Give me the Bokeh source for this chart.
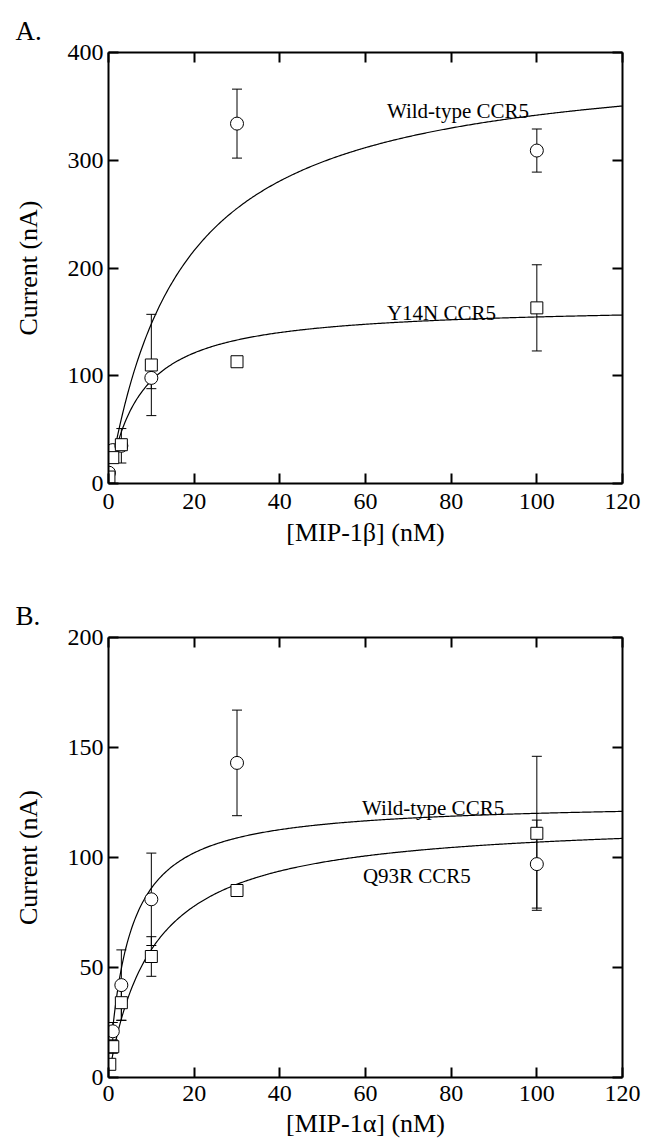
import numpy as np
from bokeh.plotting import figure
from bokeh.models import (Range1d, LinearAxis, FixedTicker, Whisker, ColumnDataSource,
                          TeeHead)
from bokeh.layouts import column
from bokeh.embed import file_html
from bokeh.resources import INLINE
from bokeh.core.properties import value

# ---------------- data: panel A (MIP-1beta) ----------------
conc_A = [0.1, 1, 3, 10, 30, 100]
wt_A = [10, 31, 35, 98, 334, 309]
wt_A_err = [0, 3, 16, 10, 32, 20]
y14n_A = [6, 24, 36, 110, 113, 163]
y14n_A_err = [0, 3, 5, 47, 4, 40]
# hyperbolic fits (Vmax nA, K nM)
fit_wt_A = (400.0, 17.0)
fit_y14n_A = (166.0, 7.4)

# ---------------- data: panel B (MIP-1alpha) ----------------
conc_B_wt = [1, 3, 10, 30, 100]
wt_B = [21, 42, 81, 143, 97]
wt_B_err = [4, 16, 21, 24, 20]
conc_B_q93r = [0.3, 1, 3, 10, 30, 100]
q93r_B = [6, 14, 34, 55, 85, 111]
q93r_B_err = [2, 3, 8, 9, 2, 35]
fit_wt_B = (125.6, 4.6)
fit_q93r_B = (118.0, 10.3)

x_ticks = [0, 20, 40, 60, 80, 100, 120]
y_ticks_A = [0, 100, 200, 300, 400]
y_ticks_B = [0, 50, 100, 150, 200]

FONT = "'Liberation Serif', serif"
TICK_FS = "24px"
LABEL_FS = "26px"
ANN_FS = "21px"


def style_axis(ax, ticks, labels=True, standoff=8):
    ax.ticker = FixedTicker(ticks=ticks)
    ax.major_tick_in = 10
    ax.major_tick_out = 0
    ax.minor_tick_line_color = None
    ax.axis_line_width = 2
    ax.axis_line_color = "black"
    ax.major_tick_line_width = 2
    ax.major_tick_line_color = "black"
    ax.major_label_text_font = FONT
    if labels:
        ax.major_label_text_color = "black"
        ax.major_label_text_font_size = TICK_FS
        ax.major_label_standoff = standoff
    else:
        ax.major_label_text_color = None
        ax.major_label_text_font_size = "0px"
        ax.major_label_standoff = 0
    ax.axis_label_text_font = FONT
    ax.axis_label_text_font_size = LABEL_FS
    ax.axis_label_text_font_style = "normal"
    ax.axis_label_text_color = "black"


def mm(params, x):
    v, k = params
    return v * x / (k + x)


def panel(width, height, left, top, right, bottom, ymax, yticks, xlabel, x_standoff,
          xl_standoff, tag, tag_standoff, tag_offset):
    p = figure(width=width, height=height, x_range=Range1d(0, 120), y_range=Range1d(0, ymax),
               output_backend="svg", toolbar_location=None,
               min_border_left=left, min_border_top=top, min_border_right=right,
               min_border_bottom=bottom)
    p.outline_line_color = None
    p.grid.visible = False
    p.background_fill_color = "white"
    p.border_fill_color = "white"
    p.title.text = tag
    p.title.align = "left"
    p.title.vertical_align = "top"
    p.title.offset = tag_offset
    p.title.standoff = tag_standoff
    p.title.text_font = FONT
    p.title.text_font_size = "27px"
    p.title.text_font_style = "normal"
    p.title.text_color = "black"
    style_axis(p.xaxis[0], x_ticks, True, x_standoff)
    style_axis(p.yaxis[0], yticks, True, 5)
    p.xaxis[0].axis_label = xlabel
    p.xaxis[0].axis_label_standoff = xl_standoff
    p.yaxis[0].axis_label = "Current (nA)"
    p.yaxis[0].axis_label_standoff = 22
    top_ax = LinearAxis()
    style_axis(top_ax, x_ticks, False)
    p.add_layout(top_ax, "above")
    right_ax = LinearAxis()
    style_axis(right_ax, yticks, False)
    p.add_layout(right_ax, "right")
    return p


def add_series(p, xs, ys, errs, marker, size):
    src = ColumnDataSource(dict(x=xs, y=ys,
                                lo=[a - e for a, e in zip(ys, errs)],
                                hi=[a + e for a, e in zip(ys, errs)]))
    w = Whisker(base="x", upper="hi", lower="lo", source=src, line_color="black",
                line_width=1,
                upper_head=TeeHead(size=10, line_width=1, line_color="black"),
                lower_head=TeeHead(size=10, line_width=1, line_color="black"),
                level="underlay")
    p.add_layout(w)
    p.scatter("x", "y", source=src, marker=marker, size=size, fill_color="white",
              line_color="black", line_width=1)


def add_fit(p, params, x0):
    xs = np.linspace(x0, 120, 400)
    p.line(xs, mm(params, xs), line_color="black", line_width=1.2)


def add_text(p, x, y, t):
    p.text(x=[x], y=[y], text=[t], text_font=value(FONT), text_font_size=ANN_FS,
           text_color="black", text_align="left", text_baseline="alphabetic")


# ---------------- Panel A ----------------
hA = 560
pA = panel(656, hA, 105, 52, 34, hA - 52 - 431, 400, y_ticks_A, "[MIP-1β] (nM)", 10, 6,
           "A.", 10, -93)
add_fit(pA, fit_wt_A, 1.5)
add_fit(pA, fit_y14n_A, 1.5)
add_series(pA, conc_A, wt_A, wt_A_err, "circle", 13)
add_series(pA, conc_A, y14n_A, y14n_A_err, "square", 12)
add_text(pA, 65, 346, "Wild-type CCR5")
add_text(pA, 65, 158, "Y14N CCR5")

# ---------------- Panel B ----------------
hB = 1143 - hA
topB = 637 - hA
pB = panel(656, hB, 108, topB, 23, hB - topB - 440, 200, y_ticks_B, "[MIP-1α] (nM)", 8, 5,
           "B.", 10, -93)
add_fit(pB, fit_wt_B, 0.8)
add_fit(pB, fit_q93r_B, 0.8)
add_series(pB, conc_B_wt, wt_B, wt_B_err, "circle", 13)
add_series(pB, conc_B_q93r, q93r_B, q93r_B_err, "square", 12)
add_text(pB, 59.2, 122.7, "Wild-type CCR5")
add_text(pB, 59.4, 91.8, "Q93R CCR5")

layout = column(pA, pB, spacing=0)
open("out.html", "w").write(file_html(layout, INLINE))
